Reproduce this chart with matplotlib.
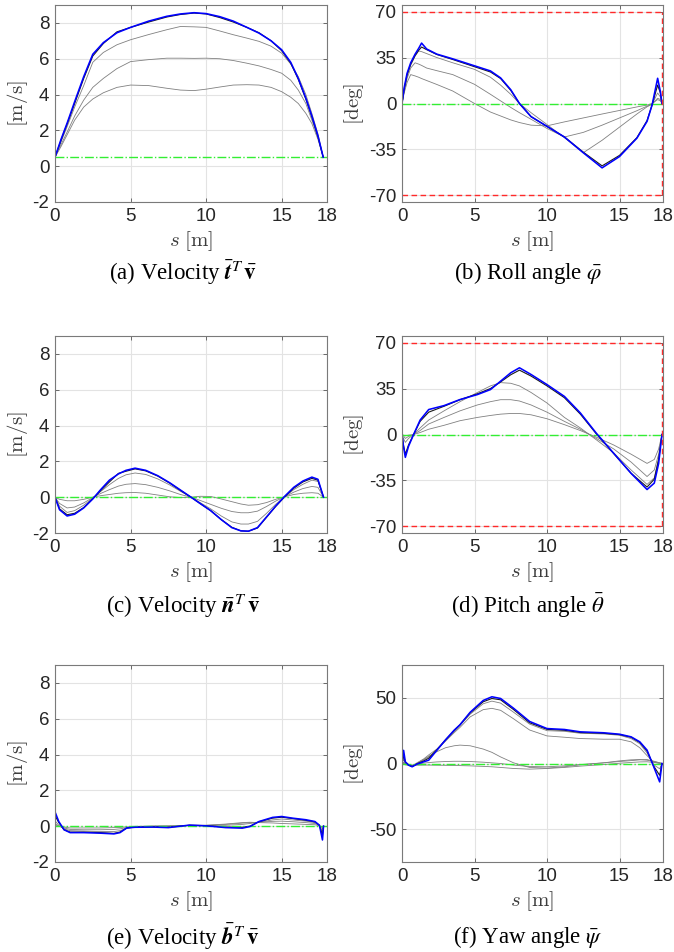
import matplotlib
matplotlib.use('Agg')
import matplotlib.pyplot as plt

# ---------------- data ----------------
# (a) tangential velocity [m/s]
s_a = [0, 0.4, 0.8, 1.3, 1.9, 2.5, 3.2, 4.1, 5, 6.2, 7.4, 8.3, 9.2, 10, 10.9,
       11.8, 12.7, 13.5, 14.3, 15, 15.6, 16.1, 16.6, 17, 17.4, 17.75]
vt_blue = [0.5, 1.5, 2.4, 3.6, 5.0, 6.25, 6.9, 7.45, 7.75, 8.1, 8.37, 8.5, 8.57, 8.52,
           8.35, 8.1, 7.75, 7.43, 7.0, 6.5, 5.8, 4.9, 3.8, 2.8, 1.7, 0.5]
vt_black = [0.5, 1.45, 2.35, 3.5, 4.9, 6.15, 6.85, 7.5, 7.75, 8.05, 8.33, 8.47, 8.55, 8.5,
            8.3, 8.05, 7.75, 7.45, 7.0, 6.45, 5.75, 4.85, 3.75, 2.75, 1.65, 0.5]
vt_gray = [
    [0.5, 1.35, 2.2, 3.3, 4.5, 5.8, 6.35, 6.78, 7.06, 7.35, 7.62, 7.8, 7.78, 7.75,
     7.55, 7.34, 7.15, 6.97, 6.7, 6.31, 5.7, 5.0, 4.0, 2.94, 1.8, 0.5],
    [0.5, 1.2, 1.9, 2.8, 3.69, 4.4, 4.9, 5.45, 5.84, 5.95, 6.03, 6.03, 6.02, 6.03,
     6.0, 5.9, 5.75, 5.6, 5.4, 5.19, 4.8, 4.25, 3.5, 2.57, 1.6, 0.5],
    [0.5, 1.1, 1.75, 2.57, 3.3, 3.75, 4.1, 4.4, 4.53, 4.5, 4.35, 4.25, 4.22, 4.3,
     4.42, 4.53, 4.55, 4.53, 4.4, 4.16, 3.85, 3.5, 2.95, 2.38, 1.5, 0.5],
]
vt_ref = 0.5

# (b) roll angle [deg]
s_b = [0, 0.15, 0.35, 0.6, 0.9, 1.15, 1.35, 1.7, 2.4, 3.5, 5, 6.1, 6.8, 7.5, 8.1,
       8.9, 10, 11.2, 12.5, 13.8, 15, 16.2, 16.9, 17.25, 17.63, 17.82, 17.93]
roll_blue = [0, 12, 23, 31, 37.5, 42, 46, 41.5, 37.6, 34, 28.7, 24.8, 19.5, 10.5, 0,
             -10, -17.4, -25.5, -37.5, -49, -40.4, -26.4, -13.6, -1, 19.2, 9, 0]
roll_black = [0, 11, 22, 30, 36.5, 40.5, 43, 41, 37.3, 33.5, 28, 24, 19, 10, 0,
              -10, -17.5, -25.5, -37, -47.5, -39.5, -26, -13, -1, 14, 8, 0]
roll_gray = [
    [0, 8, 16, 22, 21, 20, 19, 17.5, 14.5, 9.5, 0, -6.5, -9.5, -12.5, -14.5,
     -16.5, -17, -14, -11, -8, -5.3, -2.6, -1.2, 0, 3, 2, 0],
    [0, 9, 19, 27, 31, 30, 29, 27, 25, 22, 14.6, 7, 2, -3, -7,
     -12, -19, -25.5, -22, -16.5, -11, -5.5, -2, -0.5, 4, 3, 0],
    [0, 10, 21, 29, 36, 40, 39.5, 38, 35, 31, 26, 20, 14, 7, 0,
     -7, -16, -26, -37.5, -28, -18, -8, -2.5, -0.5, 8, 5, 0],
]
ang_bound = 70

# (c) normal velocity [m/s]
s_c = [0, 0.3, 0.8, 1.3, 1.9, 2.5, 3.0, 3.6, 4.2, 4.7, 5.3, 6.0, 6.8, 7.6, 8.3, 9.0,
       9.6, 10.3, 11.0, 11.7, 12.3, 12.8, 13.4, 14.0, 14.6, 15.2, 15.8, 16.4, 17.0,
       17.4, 17.77]
vn_blue = [0, -0.7, -1.05, -0.95, -0.6, -0.1, 0.4, 0.95, 1.3, 1.5, 1.62, 1.5, 1.2,
           0.8, 0.4, 0, -0.35, -0.75, -1.25, -1.7, -1.88, -1.9, -1.7, -1.1, -0.5,
           0.05, 0.55, 0.9, 1.12, 1.0, 0]
vn_black = [0, -0.65, -0.98, -0.9, -0.58, -0.08, 0.35, 0.85, 1.33, 1.45, 1.58, 1.47,
            1.18, 0.78, 0.38, 0, -0.35, -0.75, -1.25, -1.68, -1.88, -1.9, -1.72,
            -1.12, -0.52, 0.02, 0.5, 0.85, 1.05, 0.95, 0]
vn_gray = [
    [0, -0.5, -0.85, -0.75, -0.45, -0.05, 0.3, 0.7, 1.05, 1.25, 1.35, 1.27, 1.02,
     0.68, 0.33, 0, -0.3, -0.65, -1.05, -1.38, -1.5, -1.5, -1.35, -0.9, -0.4,
     0.02, 0.42, 0.72, 0.95, 0.88, 0],
    [0, -0.35, -0.6, -0.55, -0.32, -0.02, 0.2, 0.42, 0.62, 0.72, 0.76, 0.7, 0.55,
     0.35, 0.15, 0, -0.18, -0.4, -0.62, -0.8, -0.87, -0.87, -0.78, -0.52, -0.22,
     0.02, 0.28, 0.48, 0.6, 0.55, 0],
    [0, -0.12, -0.2, -0.2, -0.12, 0, 0.08, 0.15, 0.22, 0.25, 0.26, 0.22, 0.12,
     0.02, -0.02, 0, 0.05, 0.04, -0.1, -0.25, -0.38, -0.45, -0.42, -0.3, -0.12,
     0.02, 0.15, 0.22, 0.25, 0.22, 0],
]

# (d) pitch angle [deg]
s_d = [0, 0.1, 0.23, 0.45, 0.8, 1.25, 1.84, 2.9, 4.0, 5.2, 6.1, 6.8, 7.5, 8.1, 8.9,
       10.0, 11.2, 12.3, 13.4, 14.6, 15.8, 16.9, 17.4, 17.7, 17.93]
pitch_blue = [0, -9, -17.4, -9, 0, 11, 19, 22, 26.6, 30.4, 34.2, 40.6, 47, 50.8, 45.7,
              38, 29, 16.4, 1, -14.3, -29.6, -41.9, -37, -22, 0]
pitch_black = [0, -8, -15, -8, 0, 10, 17, 21.5, 26.5, 31, 35, 40, 45.5, 49, 44.5,
               37, 28, 15.5, 0.5, -14.5, -29.5, -40, -34, -19, 0]
pitch_gray = [
    [0, -3, -6, -3, 0, 5, 11, 18, 25, 32, 37, 39.5, 39, 37, 32,
     24, 13, 5, -4, -14, -27, -38, -33, -18, 0],
    [0, -1, -3, -1.5, 0, 3, 8, 13, 18, 22.5, 25, 26.5, 26.5, 25.5, 22.5,
     17, 10, 4, -3, -11, -21, -32, -27, -15, 0],
    [0, -0.5, -1, -0.5, 0, 1.5, 4, 7, 10.5, 13, 14.5, 15.5, 16, 16, 15,
     12, 7.5, 3, -2, -8, -15, -22, -19, -11, 0],
]

# (e) binormal velocity [m/s]
s_e = [0, 0.25, 0.6, 1.0, 1.9, 3.0, 3.9, 4.3, 4.75, 5.3, 6.5, 7.5, 8.9, 10, 11.3,
       12.4, 12.9, 13.5, 14.4, 15, 15.7, 16.6, 17.2, 17.5, 17.7, 17.77]
vb_blue = [0.8, 0.26, -0.2, -0.36, -0.36, -0.39, -0.43, -0.36, -0.1, -0.06, -0.05,
           -0.08, 0.06, 0.02, -0.08, -0.11, -0.02, 0.26, 0.49, 0.54, 0.45, 0.36,
           0.26, 0.05, -0.77, 0]
vb_black = [0.6, 0.2, -0.2, -0.33, -0.33, -0.36, -0.4, -0.33, -0.1, -0.05, -0.04,
            -0.06, 0.05, 0.03, -0.05, -0.06, 0.0, 0.25, 0.45, 0.5, 0.43, 0.33, 0.24,
            0.05, -0.5, 0]
vb_gray = [
    [0.3, 0.05, -0.15, -0.25, -0.27, -0.3, -0.3, -0.25, -0.12, -0.05, -0.02, -0.02,
     0.05, 0.04, 0.05, 0.1, 0.15, 0.22, 0.35, 0.4, 0.35, 0.28, 0.2, 0.05, -0.3, 0],
    [0.15, 0.0, -0.1, -0.18, -0.2, -0.2, -0.18, -0.15, -0.08, -0.03, 0.0, 0.01,
     0.04, 0.05, 0.1, 0.17, 0.2, 0.22, 0.27, 0.28, 0.25, 0.2, 0.15, 0.03, -0.15, 0],
    [0.05, 0, -0.05, -0.1, -0.1, -0.1, -0.08, -0.07, -0.04, -0.01, 0.01, 0.02, 0.03,
     0.05, 0.12, 0.2, 0.22, 0.2, 0.18, 0.15, 0.13, 0.1, 0.08, 0.02, -0.05, 0],
]

# (f) yaw angle [deg]
s_f = [0, 0.11, 0.23, 0.46, 0.7, 1.03, 1.5, 1.84, 2.4, 3.0, 3.6, 4.0, 4.7, 5.6, 6.2,
       6.8, 7.7, 8.8, 10.0, 11.2, 12.3, 13.9, 15.0, 15.8, 16.4, 16.9, 17.36, 17.77,
       17.93]
yaw_blue = [0, 10, 1.3, -1.3, -2.5, -0.5, 1.3, 2.5, 10, 18, 25.4, 29.5, 39, 48, 50.8,
            49.5, 42, 32, 26.6, 25.9, 24.1, 23.4, 22.3, 20.3, 16.5, 10.2, -2.5, -14, 0]
yaw_black = [0, 6, 1, -1, -2.3, -0.3, 2, 4, 10.5, 18, 25, 29.5, 38.5, 47, 49.5,
             48.5, 41, 31, 26, 25.3, 23.6, 23, 22, 20, 16, 9.5, -2, -9, 0]
yaw_gray = [
    [0, 3, 0.5, -1, -2.3, 0, 3, 5, 10, 17.5, 24.5, 29, 37.5, 45.5, 47.5,
     46, 39, 30, 25, 24.5, 23, 22.5, 21.5, 19, 15, 8, -1, -4, 0],
    [0, 1, 0, -1, -2, 0.5, 3.5, 6.5, 11, 17, 23.5, 27.5, 35.5, 41, 42,
     40.5, 34, 25.5, 21, 20, 19, 18.5, 18.5, 16.5, 12, 6, 1, 0, 0],
    [0, 0.5, -0.5, -1.5, -2, 0, 3, 5.5, 9, 12, 13.5, 14, 13.5, 11, 8.5,
     5, 0.5, -3, -3.5, -2.5, -1, 0.5, 2, 2.8, 3, 2.5, 1.5, 0.5, 0],
    [0, -0.5, -1, -1.3, -1.5, -1.3, -1.2, -1.2, -1.3, -1.4, -1.5, -1.6, -1.8, -2.2,
     -2.5, -3, -3.8, -4.3, -3.8, -3, -2, -0.8, 0.2, 0.8, 1.2, 1.3, 0.8, 0.3, 0],
    [0, 0, -0.5, -1, -1.2, -0.5, 0.3, 0.7, 1.2, 1.5, 1.7, 1.7, 1.5, 1, 0.5,
     0, -1.2, -2.3, -2.5, -1.8, -0.8, 0.5, 1.5, 2.2, 2.8, 3, 1.8, 0.5, 0],
]

x_ticks = [0, 5, 10, 15, 18]
vel_ticks = [-2, 0, 2, 4, 6, 8]
ang_ticks = [-70, -35, 0, 35, 70]
yaw_ticks = [-50, 0, 50]

captions = [
    r'(a) Velocity $\bar{\boldsymbol{t}}^{T}\,\bar{\mathbf{v}}$',
    r'(b) Roll angle $\bar{\varphi}$',
    r'(c) Velocity $\bar{\boldsymbol{n}}^{T}\,\bar{\mathbf{v}}$',
    r'(d) Pitch angle $\bar{\theta}$',
    r'(e) Velocity $\bar{\boldsymbol{b}}^{T}\,\bar{\mathbf{v}}$',
    r'(f) Yaw angle $\bar{\psi}$',
]

# ---------------- figure ----------------
plt.rcParams['font.family'] = ['Liberation Sans', 'DejaVu Sans']
plt.rcParams['axes.unicode_minus'] = False
fig = plt.figure(figsize=(6.74, 9.52), dpi=100)

W, H = 674.0, 952.0
row_bottom_px = [202, 533, 862]
ax_h = 197 / H
left_cols = [(55, 272), (402, 261)]
cap_y_px = [273, 606, 937]
cap_x_px = [183, 528]

spine_col = '#7a7a7a'
red = '#ff2a2a'


def style_axes(ax, yticks, ylim, ylabel, lab_x):
    ax.set_xlim(0, 18)
    ax.set_ylim(*ylim)
    ax.set_xticks(x_ticks)
    ax.set_yticks(yticks)
    ax.grid(True, color='#e3e3e3', linewidth=0.8)
    ax.set_axisbelow(True)
    for sp in ax.spines.values():
        sp.set_color(spine_col)
        sp.set_linewidth(0.8)
    ax.tick_params(direction='in', top=True, right=True, length=3, width=0.6,
                   color='#555555', labelsize=13.5, labelcolor='#262626', pad=4)
    ax.set_xlabel(r'$s\ [\mathrm{m}]$', fontsize=15, color='#3c3c3c',
                  math_fontfamily='cm', va='center')
    ax.xaxis.set_label_coords(0.5, -39 / 197)
    ax.set_ylabel(ylabel, fontsize=15, color='#3c3c3c', math_fontfamily='cm',
                  va='center')
    ax.yaxis.set_label_coords(lab_x, 0.5)


def draw(ax, s, grays, black, blue, ref):
    for g in grays:
        ax.plot(s, g, color='#808080', linewidth=0.6)
    ax.plot(s, black, color='#1a1a1a', linewidth=0.8)
    ax.axhline(ref, color='#33ee33', linestyle='-.', linewidth=1.0)
    ax.plot(s, blue, color='#0000ff', linewidth=1.15)


panels = [
    (s_a, vt_gray, vt_black, vt_blue, vt_ref, vel_ticks, (-2, 9), r'$[\mathrm{m/s}]$', False),
    (s_b, roll_gray, roll_black, roll_blue, 0, ang_ticks, (-75, 75), r'$[\mathrm{deg}]$', True),
    (s_c, vn_gray, vn_black, vn_blue, 0, vel_ticks, (-2, 9), r'$[\mathrm{m/s}]$', False),
    (s_d, pitch_gray, pitch_black, pitch_blue, 0, ang_ticks, (-75, 75), r'$[\mathrm{deg}]$', True),
    (s_e, vb_gray, vb_black, vb_blue, 0, vel_ticks, (-2, 9), r'$[\mathrm{m/s}]$', False),
    (s_f, yaw_gray, yaw_black, yaw_blue, 0, yaw_ticks, (-75, 75), r'$[\mathrm{deg}]$', False),
]

for i, (s, grays, black, blue, ref, yt, yl, ylab, bounds) in enumerate(panels):
    row, col = divmod(i, 2)
    x0, w = left_cols[col]
    ax = fig.add_axes([x0 / W, 1 - row_bottom_px[row] / H, w / W, ax_h])
    draw(ax, s, grays, black, blue, ref)
    if bounds:
        ax.axhline(ang_bound, color=red, linestyle=(0, (4, 2.5)), linewidth=1.0)
        ax.axhline(-ang_bound, color=red, linestyle=(0, (4, 2.5)), linewidth=1.0)
        ax.plot([s[-1], s[-1]], [-ang_bound, ang_bound], color=red,
                linestyle=(0, (4, 2.5)), linewidth=1.0)
    lab_px = 17 if col == 0 else 354
    style_axes(ax, yt, yl, ylab, (lab_px - x0) / w)
    fig.text(cap_x_px[col] / W, 1 - cap_y_px[row] / H, captions[i],
             ha='center', va='center', fontsize=16.5, family='Liberation Serif',
             math_fontfamily='stix')

fig.savefig('out.png', dpi=100)
